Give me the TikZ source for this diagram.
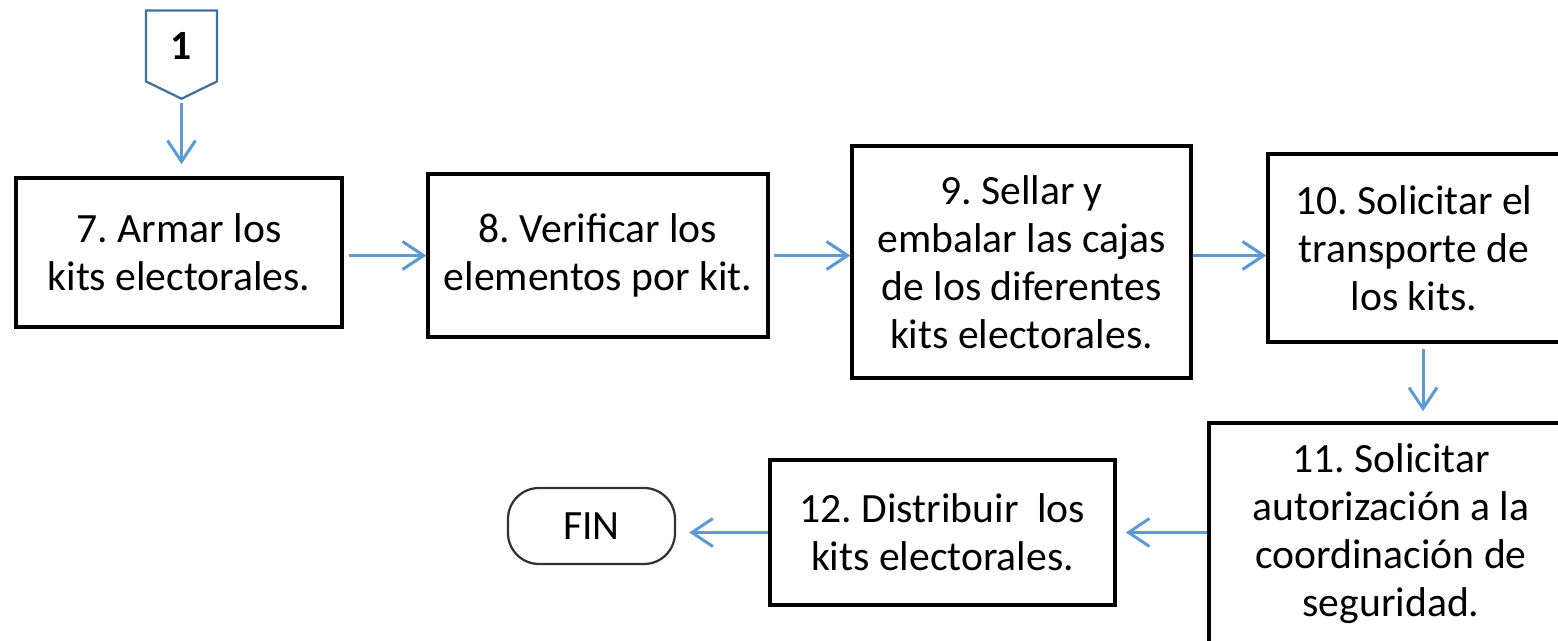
\documentclass[tikz,border=0pt]{standalone}
\usepackage{fontspec}
\setmainfont{Carlito}
\frenchspacing
\usepackage{tikz}
\usetikzlibrary{shapes}
\usetikzlibrary{shapes.symbols}
\usetikzlibrary{shapes.misc}
\usetikzlibrary{positioning}
\usetikzlibrary{arrows.meta}
\definecolor{edgeblue}{HTML}{5B9BD5}
\definecolor{connblue}{HTML}{41719C}
\tikzset{
    mybox/.style = {rectangle, line width=0.07cm, draw=black, align=center, inner sep=0, text=black},
    myconn/.style = {signal, signal to=south, signal pointer angle=128, line width=0.045cm, draw=connblue, align=center, inner sep=0, font=\bfseries},
    myfin/.style = {rectangle, rounded corners=0.62cm, line width=0.045cm, draw=black!80, align=center, inner sep=0},
    edgeb/.style = {-{Straight Barb[length=0.42cm,width=0.56cm]}, line width=0.06cm, edgeblue},
    every picture/.style={font issue=\fontsize{23.7}{27.3}},
    font issue/.style={execute at begin picture={#1\selectfont}}
}

\begin{document}
\begin{tikzpicture}
\useasboundingbox (0,0) rectangle (31.16,-12.82);

\node[myconn, minimum width=1.42cm, minimum height=1.52cm] at ( 3.63, -0.92) (p1) {1};
\node[mybox, minimum width=6.52cm, minimum height=2.98cm] at ( 3.58, -5.05) (7) {7. Armar los\\kits electorales.};
\node[mybox, minimum width=6.80cm, minimum height=3.26cm] at (11.96, -5.11) (8) {8. Verificar los\\elementos por kit.};
\node[mybox, minimum width=6.78cm, minimum height=4.64cm] at (20.43, -5.24) (9) {9. Sellar y\\embalar las cajas\\de los diferentes\\kits electorales.};
\node[mybox, minimum width=5.84cm, minimum height=3.76cm] at (28.28, -4.96) (10) {10. Solicitar el\\transporte de\\los kits.};
\node[mybox, minimum width=7.28cm, minimum height=4.44cm] at (27.82,-10.68) (11) {11. Solicitar\\autorización a la\\coordinación de\\seguridad.};
\node[mybox, minimum width=6.90cm, minimum height=2.90cm] at (18.85,-10.65) (12) {12. Distribuir~ los\\kits electorales.};
\node[myfin, minimum width=3.34cm, minimum height=1.52cm] at (11.83,-10.52) (fin) {FIN};

\coordinate (d10) at ([xshift=0.18cm]10.south);

\draw[edgeb, shorten <=0.06cm, shorten >=0.24cm] (p1.south) -- (p1.south |- 7.north);
\draw[edgeb, shorten <=0.10cm] (7.east |- 8.west) -- (8.west);
\draw[edgeb, shorten <=0.08cm] (8.east) -- (8.east -| 9.west);
\draw[edgeb] (9.east |- 8.east) -- (10.west |- 8.east);
\draw[edgeb, shorten <=0.10cm, shorten >=0.20cm] (d10) -- (d10 |- 11.north);
\draw[edgeb, shorten >=0.18cm] (11.west |- 12.east) -- (12.east);
\draw[edgeb, shorten >=0.26cm] (12.west) -- (12.west -| fin.east);

\end{tikzpicture}
\end{document}
